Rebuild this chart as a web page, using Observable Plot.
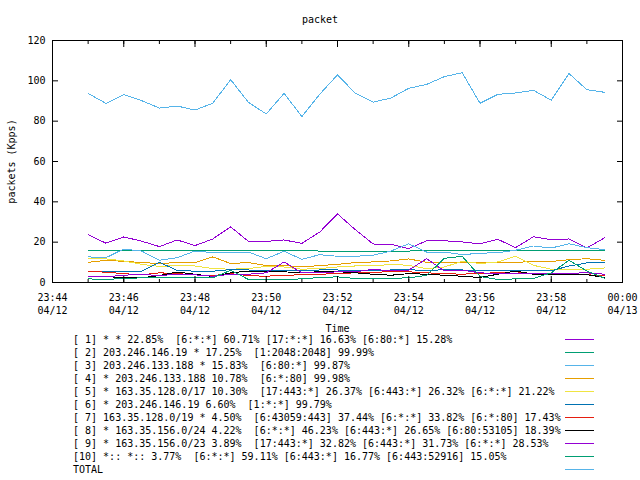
<!DOCTYPE html>
<html>
<head>
<meta charset="utf-8">
<script src="https://cdn.jsdelivr.net/npm/d3@7"></script>
<script src="https://cdn.jsdelivr.net/npm/@observablehq/plot@0.6"></script>
<style>
  body { margin: 0; background: #fff; }
  #wrap { position: relative; width: 640px; height: 480px; font-family: "DejaVu Sans Mono", monospace; font-size: 10px; color: #000; background: #fff; overflow: hidden; }
  #title { position: absolute; left: 0; top: 14px; width: 640px; text-align: center; line-height: 12px; }
  #chart { position: absolute; left: 0; top: 0; }
  #legend { position: absolute; left: 0; top: 333px; width: 640px; }
  .row { position: relative; height: 13px; line-height: 13px; white-space: pre; }
  .row .txt { position: absolute; left: 73px; top: 0; }
  .row .sw { position: absolute; left: 565px; top: 6px; width: 29px; height: 1px; }
</style>
</head>
<body>
<div id="wrap">
  <div id="chart"></div>
  <div id="title"></div>
  <div id="legend"></div>
</div>
<script>
const titleText = "packet";
const yLabel = "packets (Kpps)";
const xLabel = "Time";
const day = "2000-04-12";
const xDomain = ["2000-04-12T23:44:00Z", "2000-04-13T00:00:00Z"];
const yTicks = [0, 20, 40, 60, 80, 100, 120];

const times = ["23:45:00","23:45:30","23:46:00","23:46:30","23:47:00","23:47:30","23:48:00","23:48:30","23:49:00","23:49:30",
               "23:50:00","23:50:30","23:51:00","23:51:30","23:52:00","23:52:30","23:53:00","23:53:30","23:54:00","23:54:30",
               "23:55:00","23:55:30","23:56:00","23:56:30","23:57:00","23:57:30","23:58:00","23:58:30","23:59:00","23:59:30"];

const seriesNames = ["1","2","3","4","5","6","7","8","9","10","TOTAL"];
const colors = ["#9400d3","#009e73","#56b4e9","#e69f00","#f0e442","#0072b2","#e51e10","#000000","#9400d3","#009e73","#56b4e9"];

const legendLabels = [
  "[ 1] * * 22.85%  [6:*:*] 60.71% [17:*:*] 16.63% [6:80:*] 15.28%",
  "[ 2] 203.246.146.19 * 17.25%  [1:2048:2048] 99.99%",
  "[ 3] 203.246.133.188 * 15.83%  [6:80:*] 99.87%",
  "[ 4] * 203.246.133.188 10.78%  [6:*:80] 99.98%",
  "[ 5] * 163.35.128.0/17 10.30%  [17:443:*] 26.37% [6:443:*] 26.32% [6:*:*] 21.22%",
  "[ 6] * 203.246.146.19 6.60%  [1:*:*] 99.79%",
  "[ 7] 163.35.128.0/19 * 4.50%  [6:43059:443] 37.44% [6:*:*] 33.82% [6:*:80] 17.43%",
  "[ 8] * 163.35.156.0/24 4.22%  [6:*:*] 46.23% [6:443:*] 26.65% [6:80:53105] 18.39%",
  "[ 9] * 163.35.156.0/23 3.89%  [17:443:*] 32.82% [6:443:*] 31.73% [6:*:*] 28.53%",
  "[10] *:: *:: 3.77%  [6:*:*] 59.11% [6:443:*] 16.77% [6:443:52916] 15.05%",
  "TOTAL"
];

const s1  = [23.7,19.5,22.6,20.5,17.8,21.1,18.3,21.6,27.6,20.4,20.4,21.1,19.4,25.0,34.0,26.2,19.1,18.9,16.8,20.7,20.7,20.1,19.2,21.4,17.3,22.7,21.2,21.6,17.1,22.2];
const s2  = [15.8,15.8,15.8,15.8,15.8,15.8,15.8,15.8,15.8,15.8,15.8,15.8,15.8,15.6,15.6,15.6,15.6,15.6,15.6,15.8,15.8,15.9,15.9,15.9,15.9,15.9,15.9,15.9,15.8,15.7];
const s3  = [12.7,12.3,16.6,15.6,11.0,12.3,15.6,14.8,14.8,15.1,11.8,15.5,11.5,13.8,13.0,13.0,13.5,15.6,19.2,15.1,15.1,13.8,14.5,14.8,16.0,18.1,17.1,19.2,17.3,16.3];
const s4  = [10.0,11.0,10.5,9.9,9.4,9.9,9.9,12.7,9.4,9.9,8.4,8.4,7.7,8.4,9.0,9.9,10.2,10.7,11.7,10.0,10.0,10.0,9.9,9.9,10.0,10.4,10.4,11.3,11.8,11.0];
const s5  = [11.8,11.7,10.7,9.0,8.0,8.4,8.2,6.9,6.6,6.9,8.0,7.7,6.6,6.9,7.7,8.2,8.2,9.0,8.5,6.9,7.7,10.5,9.4,10.2,13.0,8.5,6.6,6.4,6.6,7.2];
const s6  = [5.6,5.6,5.6,5.6,10.0,6.0,5.6,5.6,6.4,6.2,6.0,6.0,6.0,6.2,6.2,6.0,6.0,6.2,6.4,5.8,6.4,6.2,6.0,5.7,6.0,5.8,5.8,8.2,9.7,9.7];
const s7  = [5.6,5.1,4.4,3.8,4.8,4.4,3.8,3.4,4.4,3.4,3.1,3.6,3.8,4.1,4.4,4.8,5.1,5.3,5.3,4.8,4.4,4.1,4.6,4.8,5.4,4.1,3.8,3.8,3.8,3.4];
const s8  = [3.1,3.0,2.3,2.3,3.4,5.2,4.1,3.0,4.8,5.7,5.7,5.3,4.8,5.4,5.4,4.8,4.1,3.6,4.4,4.1,3.6,3.1,2.5,4.1,5.7,4.1,4.1,4.1,3.9,2.5];
const s9  = [2.8,2.8,3.6,4.1,3.4,4.1,3.8,3.1,4.1,4.1,4.8,10.2,4.8,4.8,5.3,5.3,6.6,5.7,6.1,11.8,5.7,6.1,4.8,4.4,4.4,4.4,4.6,4.6,4.8,4.1];
const s10 = [1.8,1.5,2.0,2.3,2.3,2.3,2.3,2.3,6.1,1.5,1.5,1.5,1.8,2.5,2.8,2.0,1.8,2.1,2.3,3.5,12.0,13.0,3.0,1.5,1.8,2.0,4.8,11.0,5.7,2.1];
const total = [93.8,88.8,93.2,90.2,86.5,87.5,85.5,88.9,100.6,89.3,83.6,93.8,82.3,93.3,103.0,93.8,89.4,91.5,96.3,98.2,102.1,104.0,88.9,93.3,94.0,95.3,90.4,103.6,95.6,94.3];

const allSeries = [s1, s2, s3, s4, s5, s6, s7, s8, s9, s10, total];

const rows = [];
allSeries.forEach((vals, si) => {
  vals.forEach((v, i) => {
    rows.push({series: seriesNames[si], time: new Date(`${day}T${times[i]}Z`), value: v});
  });
});

const fmtHM = d3.utcFormat("%H:%M");
const fmtMD = d3.utcFormat("%m/%d");
const blank = () => "";

const chart = Plot.plot({
  width: 640,
  height: 335,
  marginTop: 40,
  marginBottom: 53,
  marginLeft: 52,
  marginRight: 18,
  style: {fontFamily: "DejaVu Sans Mono", fontSize: "10px", background: "transparent", color: "#000"},
  x: {type: "utc", domain: xDomain.map(s => new Date(s))},
  y: {domain: [0, 120]},
  color: {domain: seriesNames, range: colors},
  marks: [
    Plot.lineY(rows, {x: "time", y: "value", z: "series", stroke: "series", strokeWidth: 1, shapeRendering: "crispEdges"}),
    Plot.axisY({ticks: yTicks, tickSize: -6, tickPadding: 13, label: yLabel, labelAnchor: "center", labelArrow: "none", labelOffset: 45}),
    Plot.axisY({anchor: "right", ticks: yTicks, tickSize: -6, tickFormat: blank, label: null}),
    Plot.axisX({ticks: d3.utcMinute.every(2), tickSize: -6, tickPadding: 16, lineHeight: 1.25,
      tickFormat: d => fmtHM(d) + "\n" + fmtMD(d),
      label: xLabel, labelAnchor: "center", labelArrow: "none", labelOffset: 49}),
    Plot.axisX({ticks: d3.utcMinute.every(1), tickSize: -3, tickFormat: blank, label: null}),
    Plot.axisX({anchor: "top", ticks: d3.utcMinute.every(2), tickSize: -6, tickFormat: blank, label: null}),
    Plot.axisX({anchor: "top", ticks: d3.utcMinute.every(1), tickSize: -3, tickFormat: blank, label: null}),
    Plot.frame({stroke: "#000"})
  ]
});
document.getElementById("chart").appendChild(chart);
document.getElementById("title").textContent = titleText;

const legend = document.getElementById("legend");
legendLabels.forEach((lab, i) => {
  const row = document.createElement("div");
  row.className = "row";
  const t = document.createElement("span");
  t.className = "txt";
  t.textContent = lab;
  const sw = document.createElement("span");
  sw.className = "sw";
  sw.style.background = colors[i];
  row.appendChild(t);
  row.appendChild(sw);
  legend.appendChild(row);
});
</script>
</body>
</html>
